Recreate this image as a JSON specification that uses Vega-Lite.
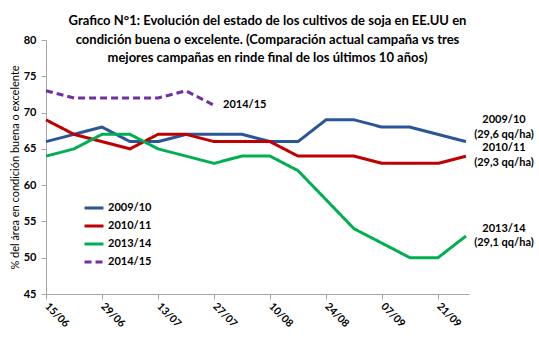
{
  "$schema": "https://vega.github.io/schema/vega-lite/v6.json",
  "width": 423,
  "height": 254,
  "autosize": {"type": "none"},
  "padding": {"left": 46, "top": 40, "right": 70, "bottom": 58},
  "background": "white",
  "config": {
    "view": {"stroke": null},
    "font": "Lato",
    "text": {"font": "Lato"}
  },
  "title": {
    "text": [
      "Grafico N°1: Evolución del estado de los cultivos de soja en EE.UU en",
      "condición buena o excelente. (Comparación actual campaña vs tres",
      "mejores campañas en rinde final de los últimos 10 años)"
    ],
    "font": "Lato",
    "fontSize": 13,
    "fontWeight": "bold",
    "color": "black",
    "lineHeight": 18.5,
    "anchor": "middle",
    "frame": "group",
    "offset": -31,
    "dx": 10
  },
  "datasets": {
    "series": [
      {"fecha": "2014-06-15", "serie": "2009/10", "valor": 66},
      {"fecha": "2014-06-22", "serie": "2009/10", "valor": 67},
      {"fecha": "2014-06-29", "serie": "2009/10", "valor": 68},
      {"fecha": "2014-07-06", "serie": "2009/10", "valor": 66},
      {"fecha": "2014-07-13", "serie": "2009/10", "valor": 66},
      {"fecha": "2014-07-20", "serie": "2009/10", "valor": 67},
      {"fecha": "2014-07-27", "serie": "2009/10", "valor": 67},
      {"fecha": "2014-08-03", "serie": "2009/10", "valor": 67},
      {"fecha": "2014-08-10", "serie": "2009/10", "valor": 66},
      {"fecha": "2014-08-17", "serie": "2009/10", "valor": 66},
      {"fecha": "2014-08-24", "serie": "2009/10", "valor": 69},
      {"fecha": "2014-08-31", "serie": "2009/10", "valor": 69},
      {"fecha": "2014-09-07", "serie": "2009/10", "valor": 68},
      {"fecha": "2014-09-14", "serie": "2009/10", "valor": 68},
      {"fecha": "2014-09-21", "serie": "2009/10", "valor": 67},
      {"fecha": "2014-09-28", "serie": "2009/10", "valor": 66},
      {"fecha": "2014-06-15", "serie": "2010/11", "valor": 69},
      {"fecha": "2014-06-22", "serie": "2010/11", "valor": 67},
      {"fecha": "2014-06-29", "serie": "2010/11", "valor": 66},
      {"fecha": "2014-07-06", "serie": "2010/11", "valor": 65},
      {"fecha": "2014-07-13", "serie": "2010/11", "valor": 67},
      {"fecha": "2014-07-20", "serie": "2010/11", "valor": 67},
      {"fecha": "2014-07-27", "serie": "2010/11", "valor": 66},
      {"fecha": "2014-08-03", "serie": "2010/11", "valor": 66},
      {"fecha": "2014-08-10", "serie": "2010/11", "valor": 66},
      {"fecha": "2014-08-17", "serie": "2010/11", "valor": 64},
      {"fecha": "2014-08-24", "serie": "2010/11", "valor": 64},
      {"fecha": "2014-08-31", "serie": "2010/11", "valor": 64},
      {"fecha": "2014-09-07", "serie": "2010/11", "valor": 63},
      {"fecha": "2014-09-14", "serie": "2010/11", "valor": 63},
      {"fecha": "2014-09-21", "serie": "2010/11", "valor": 63},
      {"fecha": "2014-09-28", "serie": "2010/11", "valor": 64},
      {"fecha": "2014-06-15", "serie": "2013/14", "valor": 64},
      {"fecha": "2014-06-22", "serie": "2013/14", "valor": 65},
      {"fecha": "2014-06-29", "serie": "2013/14", "valor": 67},
      {"fecha": "2014-07-06", "serie": "2013/14", "valor": 67},
      {"fecha": "2014-07-13", "serie": "2013/14", "valor": 65},
      {"fecha": "2014-07-20", "serie": "2013/14", "valor": 64},
      {"fecha": "2014-07-27", "serie": "2013/14", "valor": 63},
      {"fecha": "2014-08-03", "serie": "2013/14", "valor": 64},
      {"fecha": "2014-08-10", "serie": "2013/14", "valor": 64},
      {"fecha": "2014-08-17", "serie": "2013/14", "valor": 62},
      {"fecha": "2014-08-24", "serie": "2013/14", "valor": 58},
      {"fecha": "2014-08-31", "serie": "2013/14", "valor": 54},
      {"fecha": "2014-09-07", "serie": "2013/14", "valor": 52},
      {"fecha": "2014-09-14", "serie": "2013/14", "valor": 50},
      {"fecha": "2014-09-21", "serie": "2013/14", "valor": 50},
      {"fecha": "2014-09-28", "serie": "2013/14", "valor": 53},
      {"fecha": "2014-06-15", "serie": "2014/15", "valor": 73},
      {"fecha": "2014-06-22", "serie": "2014/15", "valor": 72},
      {"fecha": "2014-06-29", "serie": "2014/15", "valor": 72},
      {"fecha": "2014-07-06", "serie": "2014/15", "valor": 72},
      {"fecha": "2014-07-13", "serie": "2014/15", "valor": 72},
      {"fecha": "2014-07-20", "serie": "2014/15", "valor": 73},
      {"fecha": "2014-07-27", "serie": "2014/15", "valor": 71}
    ],
    "etiquetas": [
      {"fecha": "2014-09-28", "valor": 68.0, "texto": "2009/10\n(29,6 qq/ha)", "lado": "derecha"},
      {"fecha": "2014-09-28", "valor": 64.1, "texto": "2010/11\n(29,3 qq/ha)", "lado": "derecha"},
      {"fecha": "2014-09-28", "valor": 53.0, "texto": "2013/14\n(29,1 qq/ha)", "lado": "derecha"},
      {"fecha": "2014-07-27", "valor": 71.1, "texto": "2014/15", "lado": "fin"}
    ]
  },
  "encoding": {
    "x": {
      "field": "fecha",
      "type": "temporal",
      "scale": {
        "type": "utc",
        "domain": [
          {"year": 2014, "month": 6, "date": 15, "utc": true},
          {"year": 2014, "month": 9, "date": 28, "hours": 18, "utc": true}
        ]
      },
      "axis": {
        "values": [
          {"year": 2014, "month": 6, "date": 15, "utc": true},
          {"year": 2014, "month": 6, "date": 29, "utc": true},
          {"year": 2014, "month": 7, "date": 13, "utc": true},
          {"year": 2014, "month": 7, "date": 27, "utc": true},
          {"year": 2014, "month": 8, "date": 10, "utc": true},
          {"year": 2014, "month": 8, "date": 24, "utc": true},
          {"year": 2014, "month": 9, "date": 7, "utc": true},
          {"year": 2014, "month": 9, "date": 21, "utc": true}
        ],
        "labelExpr": "utcFormat(datum.value, '%d/%m')",
        "title": null,
        "grid": false,
        "labelAngle": 45,
        "labelAlign": "left",
        "labelBaseline": "middle",
        "labelPadding": 5.5,
        "labelDx": 6,
        "labelFont": "Lato",
        "labelFontSize": 10.5,
        "labelFontWeight": "bold",
        "labelColor": "black",
        "labelFlush": false,
        "labelOverlap": false,
        "domainColor": "#a6a6a6",
        "tickColor": "#a6a6a6",
        "tickSize": 5
      }
    },
    "y": {
      "field": "valor",
      "type": "quantitative",
      "scale": {"domain": [45, 80], "nice": false, "zero": false},
      "axis": {
        "values": [45, 50, 55, 60, 65, 70, 75, 80],
        "title": "% del área en condición buena o excelente",
        "titleFont": "Lato",
        "titleFontSize": 11,
        "titleFontWeight": "normal",
        "titleColor": "black",
        "titlePadding": 3,
        "grid": false,
        "labelFont": "Lato",
        "labelFontSize": 11,
        "labelFontWeight": "bold",
        "labelColor": "black",
        "labelPadding": 5,
        "domainColor": "#a6a6a6",
        "tickColor": "#a6a6a6",
        "tickSize": 5
      }
    }
  },
  "layer": [
    {
      "data": {"name": "series"},
      "mark": {"type": "line", "strokeWidth": 3},
      "encoding": {
        "color": {
          "field": "serie",
          "type": "nominal",
          "scale": {
            "domain": ["2009/10", "2010/11", "2013/14", "2014/15"],
            "range": ["#2A5597", "#C00000", "#00B050", "#7030A0"]
          },
          "legend": {
            "title": null,
            "orient": "none",
            "legendX": 37,
            "legendY": 157,
            "padding": 0,
            "symbolType": "stroke",
            "symbolStrokeWidth": 3,
            "symbolSize": 361,
            "rowPadding": 1,
            "labelOffset": 3,
            "labelFont": "Lato",
            "labelFontSize": 11,
            "labelFontWeight": "bold",
            "labelColor": "black"
          }
        },
        "strokeDash": {
          "field": "serie",
          "type": "nominal",
          "scale": {
            "domain": ["2009/10", "2010/11", "2013/14", "2014/15"],
            "range": [[1, 0], [1, 0], [1, 0], [7, 4]]
          },
          "legend": {
            "title": null,
            "orient": "none",
            "legendX": 37,
            "legendY": 157,
            "padding": 0,
            "symbolType": "stroke",
            "symbolStrokeWidth": 3,
            "symbolSize": 361,
            "rowPadding": 1,
            "labelOffset": 3,
            "labelFont": "Lato",
            "labelFontSize": 11,
            "labelFontWeight": "bold",
            "labelColor": "black"
          }
        }
      }
    },
    {
      "data": {"name": "etiquetas"},
      "transform": [{"filter": "datum.lado === 'derecha'"}],
      "mark": {
        "type": "text",
        "align": "center",
        "baseline": "middle",
        "dx": 38,
        "dy": -7,
        "lineBreak": "\n",
        "lineHeight": 14.5,
        "font": "Lato",
        "fontSize": 11,
        "fontWeight": "bold",
        "color": "black"
      },
      "encoding": {"text": {"field": "texto"}}
    },
    {
      "data": {"name": "etiquetas"},
      "transform": [{"filter": "datum.lado === 'fin'"}],
      "mark": {
        "type": "text",
        "align": "left",
        "baseline": "middle",
        "dx": 9,
        "font": "Lato",
        "fontSize": 11,
        "fontWeight": "bold",
        "color": "black"
      },
      "encoding": {"text": {"field": "texto"}}
    }
  ]
}
